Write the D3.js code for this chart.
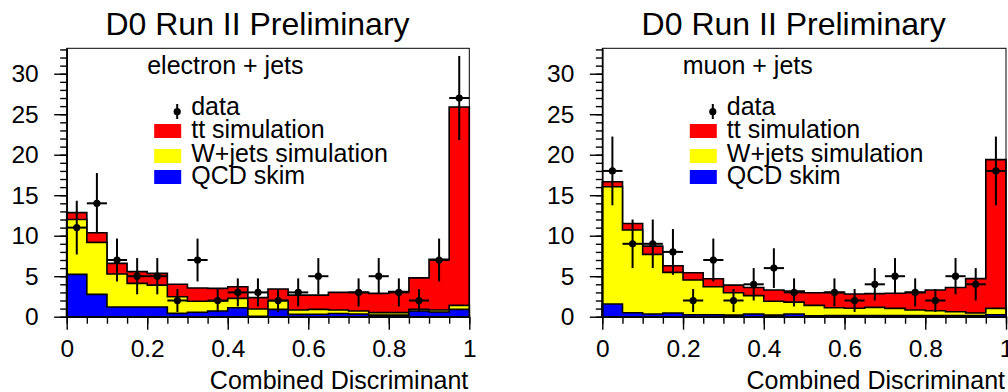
<!DOCTYPE html>
<html>
<head>
<meta charset="utf-8">
<script src="https://cdn.jsdelivr.net/npm/d3@7"></script>
<style>
  html, body { margin: 0; padding: 0; background: #fff; }
  svg { display: block; }
  text { font-family: "Liberation Sans", Arial, Helvetica, sans-serif; fill: #000; }
</style>
</head>
<body>
<svg id="chart" width="1008" height="392"></svg>
<script>
// ---------- data ----------
const binEdgesLow = [0,0.05,0.1,0.15,0.2,0.25,0.3,0.35,0.4,0.45,0.5,0.55,0.6,0.65,0.7,0.75,0.8,0.85,0.9,0.95];
const binWidth = 0.05;

const panelTitles = ["D0 Run II Preliminary", "D0 Run II Preliminary"];
const channelLabels = ["electron + jets", "muon + jets"];
const legendLabels = ["data", "tt simulation", "W+jets simulation", "QCD skim"];
const xTickValues = [0, 0.2, 0.4, 0.6, 0.8, 1];
const xTickLabels = ["0", "0.2", "0.4", "0.6", "0.8", "1"];
const yTickValues = [0, 5, 10, 15, 20, 25, 30];
const yTickLabels = ["0", "5", "10", "15", "20", "25", "30"];
const xTitle = "Combined Discriminant";

// electron + jets
const eQCD   = [5.23,2.76,1.19,1.19,1.19,0.41,0.55,0.70,1.11,0.05,0.90,0.29,0.30,0.40,0.33,0.20,0.20,0.70,0.58,0.90];
const eWjets = [6.77,6.42,4.08,2.93,2.71,2.06,1.35,1.23,1.15,0.90,1.08,0.53,0.60,0.42,0.37,0.30,0.30,0.20,0.24,0.50];
const eTT    = [0.85,1.19,1.31,1.44,1.45,1.53,1.65,1.57,1.44,1.40,1.44,1.85,1.77,2.18,2.30,2.38,2.59,3.90,6.26,24.50];
const eData  = [11,14,7,5,5,2,7,2,3,3,2,3,5,0,3,5,3,2,7,27];

// muon + jets
const mQCD   = [1.56,0.49,0.33,0.45,0.25,0.25,0.20,0.33,0.20,0.33,0.12,0.15,0.15,0.15,0.15,0.15,0.15,0.15,0.15,0.25];
const mWjets = [14.49,10.21,7.37,5.02,4.28,3.45,2.76,2.27,1.70,1.47,1.28,0.95,0.90,1.00,0.88,0.67,0.59,0.47,0.30,0.78];
const mTT    = [0.62,0.80,1.02,0.83,0.90,0.99,0.94,1.00,1.40,1.37,1.55,1.90,1.75,1.70,1.87,2.18,2.56,2.98,4.25,18.37];
const mData  = [18,9,9,8,2,7,2,4,6,3,0,3,2,4,5,3,2,5,4,18];

// ---------- layout ----------
const svg = d3.select("#chart");
const yTop = 48.3, yBot = 316.7;
const colors = { tt: "#ff0000", wj: "#ffff00", qcd: "#0000ff" };

const panels = [
  { x0: 66.7, x1: 469.3, qcd: eQCD, wj: eWjets, tt: eTT, data: eData, title: panelTitles[0], label: channelLabels[0] },
  { x0: 602.3, x1: 1006, qcd: mQCD, wj: mWjets, tt: mTT, data: mData, title: panelTitles[1], label: channelLabels[1] }
];

panels.forEach(p => {
  const x = d3.scaleLinear().domain([0, 1]).range([p.x0, p.x1]);
  const y = d3.scaleLinear().domain([0, 33.14]).range([yBot, yTop]);
  const g = svg.append("g");

  // cumulative stacks
  const blueTop = p.qcd.slice();
  const yellowTop = p.qcd.map((v, i) => v + p.wj[i]);
  const redTop = yellowTop.map((v, i) => v + p.tt[i]);

  const stepPoints = vals => {
    const pts = [[0, 0]];
    vals.forEach((v, i) => {
      pts.push([binEdgesLow[i], v]);
      pts.push([binEdgesLow[i] + binWidth, v]);
    });
    pts.push([1, 0]);
    return pts;
  };
  const area = d3.area().x(d => x(d[0])).y0(y(0)).y1(d => y(d[1]));
  const line = d3.line().x(d => x(d[0])).y(d => y(d[1]));

  [[redTop, colors.tt], [yellowTop, colors.wj], [blueTop, colors.qcd]].forEach(([vals, c]) => {
    const pts = stepPoints(vals);
    g.append("path").attr("d", area(pts)).attr("fill", c).attr("stroke", "none");
    g.append("path").attr("d", line(pts)).attr("fill", "none")
      .attr("stroke", "#000").attr("stroke-width", 1.6).attr("stroke-linejoin", "miter");
  });

  // data points with Poisson errors
  const dg = g.append("g").attr("stroke", "#000").attr("stroke-width", 2);
  p.data.forEach((d, i) => {
    if (d <= 0) return;
    const xc = binEdgesLow[i] + binWidth / 2;
    const e = Math.sqrt(d);
    dg.append("line").attr("x1", x(xc)).attr("x2", x(xc)).attr("y1", y(d - e)).attr("y2", y(Math.min(d + e, 33.14)));
    dg.append("line").attr("x1", x(binEdgesLow[i])).attr("x2", x(binEdgesLow[i] + binWidth)).attr("y1", y(d)).attr("y2", y(d));
    dg.append("circle").attr("cx", x(xc)).attr("cy", y(d)).attr("r", 3.6).attr("fill", "#000").attr("stroke", "none");
  });

  // frame
  g.append("rect").attr("x", p.x0).attr("y", yTop).attr("width", p.x1 - p.x0).attr("height", yBot - yTop)
    .attr("fill", "none").attr("stroke", "#000").attr("stroke-width", 1);

  // y axis
  const yMinor = d3.range(0, 34);
  g.append("g").attr("transform", `translate(${p.x0},0)`)
    .call(d3.axisLeft(y).tickValues(yMinor).tickSize(6.5).tickSizeOuter(0).tickFormat(""))
    .call(a => a.selectAll("line").attr("stroke-width", 1.4))
    .call(a => a.select(".domain").attr("stroke-width", 1.6));
  g.append("g").attr("transform", `translate(${p.x0},0)`)
    .call(d3.axisLeft(y).tickValues(yTickValues).tickSize(12.5).tickPadding(15.5).tickSizeOuter(0)
      .tickFormat((d, i) => yTickLabels[i]))
    .call(a => a.select(".domain").remove())
    .call(a => a.selectAll("line").attr("stroke-width", 1.4))
    .call(a => a.selectAll("text").style("font-size", "24.5px").attr("font-family", null));

  // x axis
  const xMinor = d3.range(0, 21).map(k => k * binWidth);
  g.append("g").attr("transform", `translate(0,${yBot})`)
    .call(d3.axisBottom(x).tickValues(xMinor).tickSize(7).tickSizeOuter(0).tickFormat(""))
    .call(a => a.selectAll("line").attr("stroke-width", 1.4))
    .call(a => a.select(".domain").attr("stroke-width", 1.6));
  g.append("g").attr("transform", `translate(0,${yBot})`)
    .call(d3.axisBottom(x).tickValues(xTickValues).tickSize(13).tickPadding(10.3).tickSizeOuter(0)
      .tickFormat((d, i) => xTickLabels[i]))
    .call(a => a.select(".domain").remove())
    .call(a => a.selectAll("line").attr("stroke-width", 1.4))
    .call(a => a.selectAll("text").style("font-size", "24.5px").attr("font-family", null));

  // axis title
  g.append("text").attr("x", p.x1 - 1).attr("y", 389).attr("text-anchor", "end")
    .style("font-size", "25px").text(xTitle);

  // panel title
  g.append("text").attr("x", (p.x0 + p.x1) / 2 - 10.5).attr("y", 35).attr("text-anchor", "middle")
    .style("font-size", "32px").text(p.title);

  // channel label
  g.append("text").attr("x", p.x0 + 80.5).attr("y", 74).style("font-size", "25px").text(p.label);

  // legend
  const lx = p.x0;
  const lg = g.append("g");
  // data marker
  lg.append("line").attr("x1", lx + 110.5).attr("x2", lx + 110.5).attr("y1", 104).attr("y2", 119)
    .attr("stroke", "#000").attr("stroke-width", 2);
  lg.append("circle").attr("cx", lx + 110.5).attr("cy", 111.7).attr("r", 3.6).attr("fill", "#000");
  lg.append("text").attr("x", lx + 124.5).attr("y", 115).style("font-size", "25px").text(legendLabels[0]);
  const boxes = [
    { c: colors.tt, top: 124, base: 138.3, t: legendLabels[1] },
    { c: colors.wj, top: 149, base: 162.3, t: legendLabels[2] },
    { c: colors.qcd, top: 170, base: 183.5, t: legendLabels[3] }
  ];
  boxes.forEach(b => {
    lg.append("rect").attr("x", lx + 87.5).attr("y", b.top).attr("width", 27).attr("height", 14).attr("fill", b.c);
    lg.append("text").attr("x", lx + 124.5).attr("y", b.base).style("font-size", "25px").text(b.t);
  });
});
</script>
</body>
</html>
